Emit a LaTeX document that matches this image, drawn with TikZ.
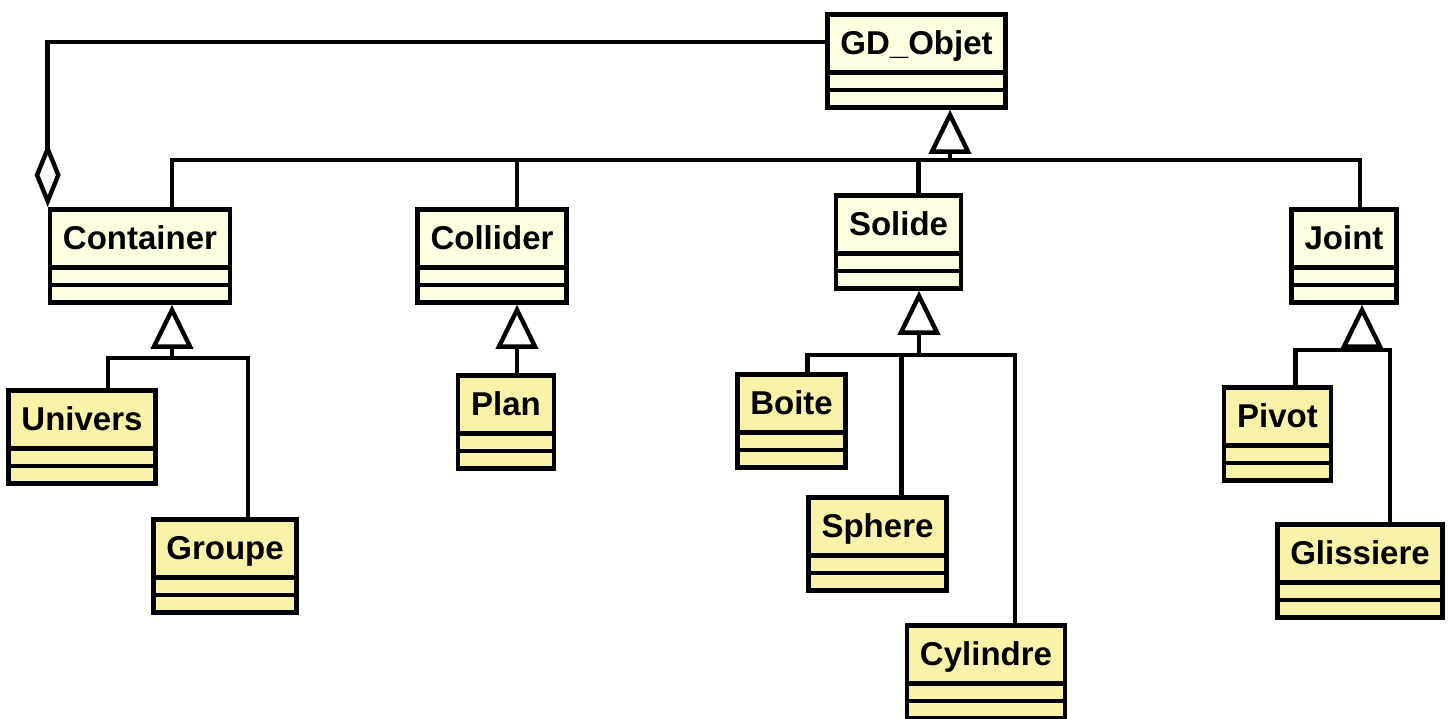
\documentclass[tikz,border=0pt]{standalone}
\usepackage{fontspec}
\setmainfont{Liberation Sans}
\usepackage{xcolor}
\definecolor{cream}{HTML}{FFFFE1}
\definecolor{lemon}{HTML}{F9F3A9}
\usetikzlibrary{arrows.meta,shapes.multipart}

\begin{document}
\begin{tikzpicture}[x=0.5pt,y=-0.5pt,
  cls/.style={rectangle split,rectangle split parts=3,draw,line width=2.3pt,
              inner xsep=6.5pt,inner ysep=0pt,anchor=north,
              rectangle split empty part height=6.5pt,
              rectangle split empty part depth=0pt,
              font=\fontsize{16.5}{19}\selectfont\bfseries,
              execute at begin node={\rule[-7.7pt]{0pt}{26.7pt}}},
  base/.style={cls,fill=cream},
  leaf/.style={cls,fill=lemon},
  line/.style={line width=2.2pt},
  gen/.style={line,-{Triangle[open,length=22pt,width=21pt]}},
  agg/.style={line,{Diamond[open,length=32pt,width=13pt]}-}]
  \useasboundingbox (0,0) rectangle (1455,718);
  % classes
  \node[base] (obj)   at (916.5,12) {GD\_Objet};
  \node[base] (cont)  at (140,207)  {Container};
  \node[base] (coll)  at (492,207)  {Collider};
  \node[base] (sol)   at (898.5,193){Solide};
  \node[base] (joint) at (1344,207) {Joint};
  \node[leaf] (univ)  at (82,388)   {Univers};
  \node[leaf] (grp)   at (225,517)  {Groupe};
  \node[leaf] (plan)  at (506,373)  {Plan};
  \node[leaf] (boite) at (791.5,372){Boite};
  \node[leaf] (sphere)at (877.5,495){Sphere};
  \node[leaf] (cyl)   at (986,623)  {Cylindre};
  \node[leaf] (pivot) at (1277.5,385){Pivot};
  \node[leaf] (gliss) at (1360,522) {Glissiere};
  % junctions
  \coordinate (obj-j)   at (950,160);
  \coordinate (cont-j)  at (172,358);
  \coordinate (sol-j)   at (919,355);
  \coordinate (joint-j) at (1362,350);
  \coordinate (plan-x)  at ([xshift=5.5pt]plan.north);
  % inheritance
  \draw[gen](obj-j)--(obj-j |- obj.south);
  \draw[line]([xshift=16pt]cont.north) |- (obj-j);
  \draw[line]([xshift=12.5pt]coll.north) |- (obj-j);
  \draw[line]([xshift=10pt]sol.north) |- (obj-j);
  \draw[line]([xshift=8pt]joint.north) |- (obj-j);
  \draw[gen](cont-j)--(cont-j |- cont.south);
  \draw[line]([xshift=13pt]univ.north) |- (cont-j);
  \draw[line]([xshift=11.5pt]grp.north) |- (cont-j);
  \draw[gen](plan-x)--(plan-x |- coll.south);
  \draw[gen](sol-j)--(sol-j |- sol.south);
  \draw[line]([xshift=8pt]boite.north) |- (sol-j);
  \draw[line]([xshift=12pt]sphere.north) |- (sol-j);
  \draw[line]([xshift=14.5pt]cyl.north) |- (sol-j);
  \draw[gen](joint-j)--(joint-j |- joint.south);
  \draw[line]([xshift=9pt]pivot.north) |- (joint-j);
  \draw[line]([xshift=15pt]gliss.north) |- (joint-j);
  % aggregation
  \draw[agg](cont.north west) |- ([yshift=-15pt]obj.north west);
\end{tikzpicture}
\end{document}
